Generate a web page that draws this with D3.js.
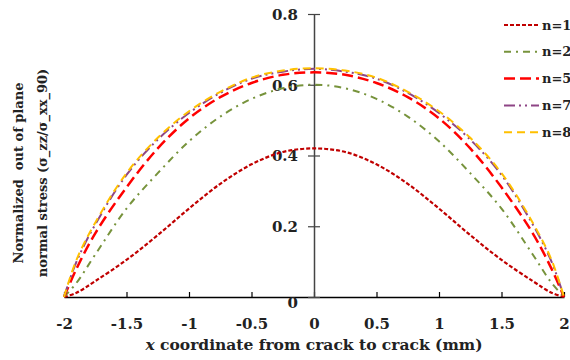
<!DOCTYPE html>
<html>
<head>
<meta charset="utf-8">
<script src="https://cdn.jsdelivr.net/npm/d3@7"></script>
<style>
  body { margin: 0; background: #fff; }
  svg text { font-family: "DejaVu Serif", serif; font-weight: bold; fill: #222; }
</style>
</head>
<body>
<main></main>
<script>
const xs = [-2, -1.9, -1.75, -1.5, -1.25, -1, -0.75, -0.5, -0.25, 0, 0.25, 0.5, 0.75, 1, 1.25, 1.5, 1.75, 1.9, 2];

const n1 = [0, 0.012, 0.045, 0.105, 0.175, 0.25, 0.32, 0.375, 0.41, 0.42, 0.41, 0.375, 0.32, 0.25, 0.175, 0.105, 0.045, 0.012, 0];
const n2 = [0, 0.04, 0.12, 0.25, 0.35, 0.44, 0.51, 0.56, 0.59, 0.60, 0.59, 0.56, 0.51, 0.44, 0.35, 0.25, 0.12, 0.04, 0];
const n5 = [0, 0.08, 0.18, 0.31, 0.42, 0.505, 0.565, 0.605, 0.628, 0.635, 0.628, 0.605, 0.565, 0.505, 0.42, 0.31, 0.18, 0.08, 0];
const n7 = [0, 0.1, 0.205, 0.345, 0.445, 0.52, 0.577, 0.617, 0.637, 0.645, 0.637, 0.617, 0.577, 0.52, 0.445, 0.345, 0.205, 0.1, 0];
const n8 = [0, 0.105, 0.21, 0.35, 0.45, 0.525, 0.58, 0.62, 0.64, 0.647, 0.64, 0.62, 0.58, 0.525, 0.45, 0.35, 0.21, 0.105, 0];

const seriesNames = ["n=1", "n=2", "n=5", "n=7", "n=8"];
const xTicks = [-2, -1.5, -1, -0.5, 0, 0.5, 1, 1.5, 2];
const yTicks = [0, 0.2, 0.4, 0.6, 0.8];

const w = 570, h = 360;

// series look
const styles = [
  { color: "#c00000", dash: "4,2", width: 2.2 },
  { color: "#77933c", dash: "7,5,2,5", width: 2 },
  { color: "#ff0000", dash: "11,5", width: 2.5 },
  { color: "#8e4585", dash: "11,4,2,4,2,4", width: 2 },
  { color: "#ffc000", dash: "8,5", width: 2 }
];
const allSeries = [n1, n2, n5, n7, n8];

const scaleX = d3.scaleLinear().domain([-2, 2]).range([64, 564]);
const scaleY = d3.scaleLinear().domain([0, 0.8]).range([297, 14]);

const svg = d3.select("main").append("svg")
  .attr("width", w)
  .attr("height", h);

// x axis (ticks point up)
const axisX = d3.axisBottom(scaleX).tickValues(xTicks).tickSize(0).tickFormat(d => d);
const gx = svg.append("g").attr("transform", `translate(0, ${scaleY(0)})`).call(axisX);
gx.select(".domain").attr("stroke", "#000").attr("stroke-width", 1.5);
gx.selectAll(".tick line").remove();
gx.selectAll(".tick").append("line")
  .attr("y1", 0).attr("y2", -5)
  .attr("stroke", "#000").attr("stroke-width", 1.2);
gx.selectAll(".tick text")
  .attr("y", 32).attr("dy", null)
  .style("font-size", "15px")
  .style("font-family", "DejaVu Serif")
  .style("font-weight", "bold")
  .attr("fill", "#222");

// y axis at x = 0, ticks cross the line
const axisY = d3.axisLeft(scaleY).tickValues(yTicks).tickSize(0).tickFormat(d => d);
const gy = svg.append("g").attr("transform", `translate(${scaleX(0)}, 0)`).call(axisY);
gy.select(".domain").attr("stroke", "#444").attr("stroke-width", 1.5);
gy.selectAll(".tick line").remove();
gy.selectAll(".tick").append("line")
  .attr("x1", -6).attr("x2", 6)
  .attr("stroke", "#444").attr("stroke-width", 1.2);
gy.selectAll(".tick text")
  .attr("x", -16)
  .attr("dy", d => d === 0 ? "0.7em" : "0.35em")
  .style("font-size", "15px")
  .style("font-family", "DejaVu Serif")
  .style("font-weight", "bold")
  .attr("fill", "#222");

// curves
const line = d3.line()
  .x((d, i) => scaleX(xs[i]))
  .y(d => scaleY(d))
  .curve(d3.curveCatmullRom.alpha(0.5));

svg.selectAll("path.curve")
  .data(allSeries)
  .enter()
  .append("path")
  .attr("class", "curve")
  .attr("d", d => line(d))
  .attr("fill", "none")
  .attr("stroke", (d, i) => styles[i].color)
  .attr("stroke-width", (d, i) => styles[i].width)
  .attr("stroke-dasharray", (d, i) => styles[i].dash);

// legend
const legend = svg.append("g").attr("transform", "translate(504, 25)");
seriesNames.forEach((name, i) => {
  const g = legend.append("g").attr("transform", `translate(0, ${i * 26.8})`);
  g.append("line")
    .attr("x1", 0).attr("x2", 35)
    .attr("stroke", styles[i].color)
    .attr("stroke-width", styles[i].width)
    .attr("stroke-dasharray", styles[i].dash);
  g.append("text")
    .attr("x", 38).attr("dy", "0.35em")
    .style("font-size", "13px")
    .text(name);
});

// axis titles
const xt = svg.append("text")
  .attr("x", scaleX(0)).attr("y", 350)
  .attr("text-anchor", "middle")
  .style("font-size", "15.5px");
xt.append("tspan").style("font-style", "italic").text("x");
xt.append("tspan").text(" coordinate from crack to crack (mm)");

svg.append("text")
  .attr("transform", "translate(23, 173) rotate(-90)")
  .attr("text-anchor", "middle")
  .style("font-size", "13px")
  .attr("xml:space", "preserve")
  .text("Normalized  out of plane");

svg.append("text")
  .attr("transform", "translate(47, 173) rotate(-90)")
  .attr("text-anchor", "middle")
  .style("font-size", "13px")
  .text("normal stress (σ_zz/σ_xx_90)");
</script>
</body>
</html>
